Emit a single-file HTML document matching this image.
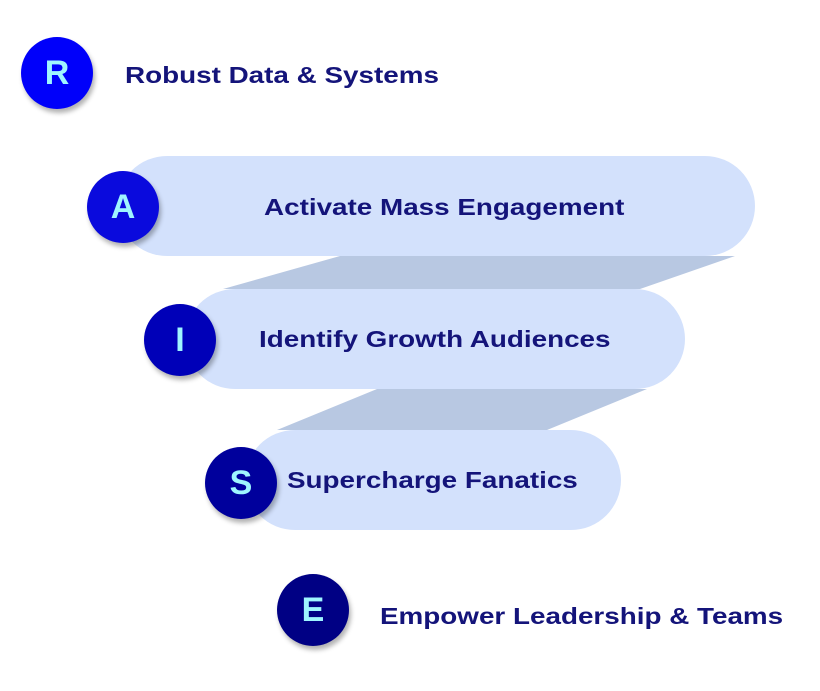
<!DOCTYPE html>
<html><head><style>
body{margin:0;width:820px;height:691px;background:#fff;position:relative;overflow:hidden;font-family:"Liberation Sans",sans-serif}
.c{position:absolute;width:72px;height:72px;border-radius:50%;color:#9ff5ff;font-weight:bold;font-size:34px;display:flex;align-items:center;justify-content:center;box-shadow:2px 4px 5px rgba(0,0,0,.3)}
.t{position:absolute;color:#14147a;font-weight:bold;font-size:23px;white-space:nowrap;transform:scaleX(1.21);transform-origin:0 50%}
</style></head><body>
<svg width="820" height="691" style="position:absolute;left:0;top:0">
<polygon points="340,256 735,256 640,289 223,289" fill="#b8c8e2"/>
<polygon points="377,389 647,389 547,430 277,430" fill="#b8c8e2"/>
<rect x="117" y="156" width="638" height="100" rx="50" fill="#d3e1fc"/>
<rect x="185" y="289" width="500" height="100" rx="50" fill="#d3e1fc"/>
<rect x="245" y="430" width="376" height="100" rx="50" fill="#d3e1fc"/>
</svg>
<div class="c" style="left:21px;top:37px;background:#0000fa">R</div>
<div class="c" style="left:87px;top:171px;background:#0a0add">A</div>
<div class="c" style="left:144px;top:304px;background:#0000b8">I</div>
<div class="c" style="left:205px;top:447px;background:#00009c">S</div>
<div class="c" style="left:277px;top:574px;background:#000084">E</div>
<div class="t" style="left:125px;top:62px">Robust Data &amp; Systems</div>
<div class="t" style="left:264px;top:194px">Activate Mass Engagement</div>
<div class="t" style="left:259px;top:326px">Identify Growth Audiences</div>
<div class="t" style="left:287px;top:467px">Supercharge Fanatics</div>
<div class="t" style="left:380px;top:603px">Empower Leadership &amp; Teams</div>
</body></html>
